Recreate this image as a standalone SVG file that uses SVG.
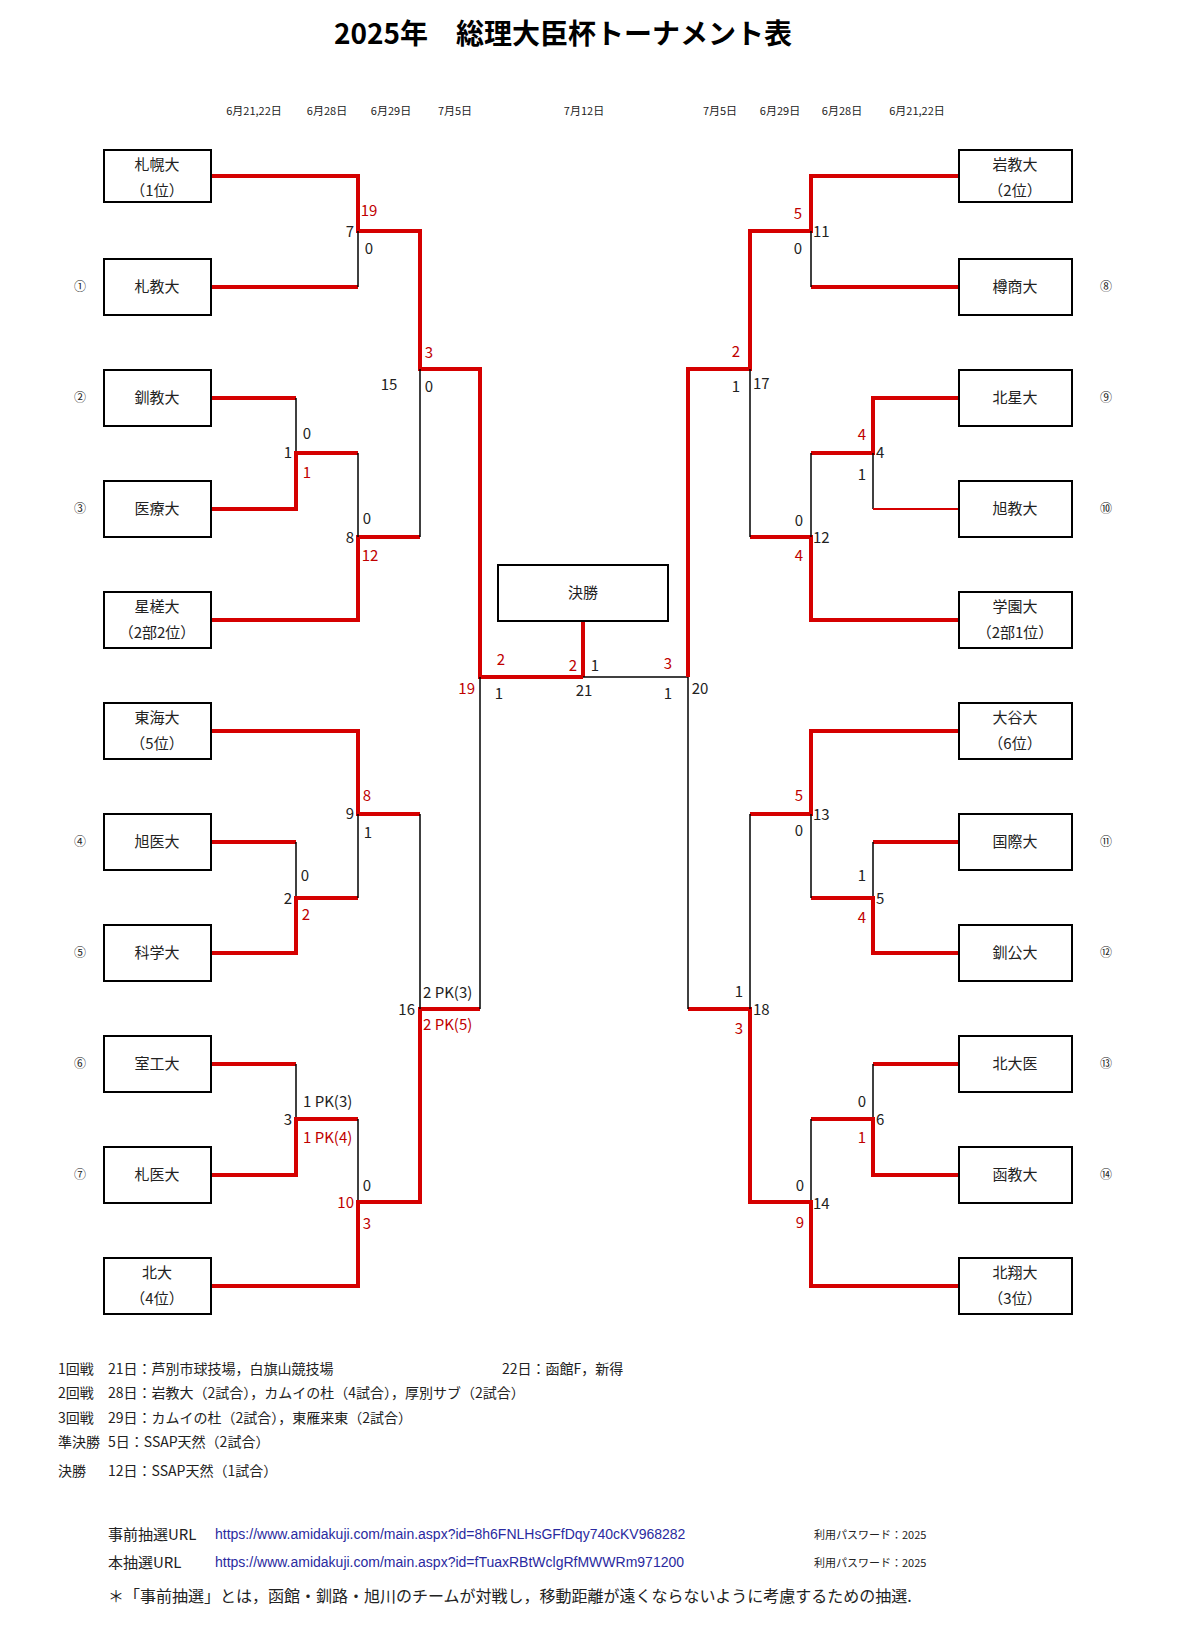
<svg xmlns="http://www.w3.org/2000/svg" width="1200" height="1644" viewBox="0 0 1200 1644">
<style>
text{font-family:"Noto Sans CJK JP","Liberation Sans",sans-serif;fill:#222}
.t{font-size:28px;font-weight:bold;text-anchor:middle;fill:#000}
.d{font-size:11px;text-anchor:middle}
.n{font-size:15px;text-anchor:middle}
.c{font-size:12px;text-anchor:middle}
.s{font-size:15px;font-family:"Liberation Sans","Noto Sans CJK JP",sans-serif}
.m{text-anchor:middle}.e{text-anchor:end}
.r{fill:#c00000}
.f{font-size:14px}
.u{font-size:14px;fill:#2a2aa0;font-family:"Liberation Sans",sans-serif}
.p{font-size:11px}
.box{fill:#fff;stroke:#000;stroke-width:2}
.R{stroke:#d50000;stroke-width:4;fill:none}
.r2{stroke:#d50000;stroke-width:2;fill:none}
.B{stroke:#000;stroke-width:1.5;fill:none}
</style>
<text class="t" x="563" y="44">2025年　総理大臣杯トーナメント表</text>
<g id="dates">
<text class="d" x="254" y="115">6月21,22日</text><text class="d" x="327" y="115">6月28日</text><text class="d" x="391" y="115">6月29日</text><text class="d" x="455" y="115">7月5日</text><text class="d" x="584" y="115">7月12日</text><text class="d" x="720" y="115">7月5日</text><text class="d" x="780" y="115">6月29日</text><text class="d" x="842" y="115">6月28日</text><text class="d" x="917" y="115">6月21,22日</text>
</g>
<g id="connectors">
<path class="R" d="M211 176H358V231H420V369H480V677H583"/>
<path class="R" d="M211 287H358"/><path class="B" d="M358 287V231"/>
<path class="R" d="M211 398H296"/><path class="B" d="M296 398V453"/>
<path class="R" d="M211 509H296V453H358"/>
<path class="R" d="M211 620H358V537H420"/><path class="B" d="M358 453V537"/>
<path class="B" d="M420 369V537"/>
<path class="R" d="M211 731H358V814H420"/>
<path class="R" d="M211 842H296"/><path class="B" d="M296 842V898"/>
<path class="R" d="M211 953H296V898H358"/><path class="B" d="M358 814V898"/>
<path class="R" d="M211 1064H296"/><path class="B" d="M296 1064V1119"/>
<path class="R" d="M211 1175H296V1119H358"/><path class="B" d="M358 1119V1202"/>
<path class="R" d="M211 1286H358V1202H420V1009H480"/><path class="B" d="M420 814V1009"/>
<path class="B" d="M480 677V1009"/>
<path class="R" d="M583 621V677"/>
<path class="B" d="M583 677H688"/>
<path class="R" d="M959 176H811V231H750V369H688V677"/>
<path class="R" d="M959 287H811"/><path class="B" d="M811 287V231"/>
<path class="R" d="M959 398H873V453H811"/><path class="B" d="M873 453V509"/>
<path class="r2" d="M959 509H873"/>
<path class="R" d="M959 620H811V537H750"/><path class="B" d="M811 453V537"/>
<path class="B" d="M750 369V537"/>
<path class="R" d="M959 731H811V814H750"/>
<path class="R" d="M959 842H873"/><path class="B" d="M873 842V898"/>
<path class="R" d="M959 953H873V898H811"/><path class="B" d="M811 814V898"/>
<path class="R" d="M959 1064H873"/><path class="B" d="M873 1064V1119"/>
<path class="R" d="M959 1175H873V1119H811"/><path class="B" d="M811 1119V1202"/>
<path class="R" d="M959 1286H811V1202H750V1009H688"/><path class="B" d="M750 814V1009"/>
<path class="B" d="M688 677V1009"/>
</g>
<g id="final"><rect class="box" x="498" y="565" width="170" height="56"/><text class="n" x="583" y="598">決勝</text></g>
<g id="L1"><rect class="box" x="104" y="150" width="107" height="52"/><text class="n" x="157" y="170">札幌大</text><text class="n" x="157" y="196">（1位）</text></g>
<g id="L2"><rect class="box" x="104" y="259" width="107" height="56"/><text class="n" x="157" y="292">札教大</text></g>
<g id="L3"><rect class="box" x="104" y="370" width="107" height="56"/><text class="n" x="157" y="403">釧教大</text></g>
<g id="L4"><rect class="box" x="104" y="481" width="107" height="56"/><text class="n" x="157" y="514">医療大</text></g>
<g id="L5"><rect class="box" x="104" y="592" width="107" height="56"/><text class="n" x="157" y="612">星槎大</text><text class="n" x="157" y="638">（2部2位）</text></g>
<g id="L6"><rect class="box" x="104" y="703" width="107" height="56"/><text class="n" x="157" y="723">東海大</text><text class="n" x="157" y="749">（5位）</text></g>
<g id="L7"><rect class="box" x="104" y="814" width="107" height="56"/><text class="n" x="157" y="847">旭医大</text></g>
<g id="L8"><rect class="box" x="104" y="925" width="107" height="56"/><text class="n" x="157" y="958">科学大</text></g>
<g id="L9"><rect class="box" x="104" y="1036" width="107" height="56"/><text class="n" x="157" y="1069">室工大</text></g>
<g id="L10"><rect class="box" x="104" y="1147" width="107" height="56"/><text class="n" x="157" y="1180">札医大</text></g>
<g id="L11"><rect class="box" x="104" y="1258" width="107" height="56"/><text class="n" x="157" y="1278">北大</text><text class="n" x="157" y="1304">（4位）</text></g>
<g id="R1"><rect class="box" x="959" y="150" width="113" height="52"/><text class="n" x="1015" y="170">岩教大</text><text class="n" x="1015" y="196">（2位）</text></g>
<g id="R2"><rect class="box" x="959" y="259" width="113" height="56"/><text class="n" x="1015" y="292">樽商大</text></g>
<g id="R3"><rect class="box" x="959" y="370" width="113" height="56"/><text class="n" x="1015" y="403">北星大</text></g>
<g id="R4"><rect class="box" x="959" y="481" width="113" height="56"/><text class="n" x="1015" y="514">旭教大</text></g>
<g id="R5"><rect class="box" x="959" y="592" width="113" height="56"/><text class="n" x="1015" y="612">学園大</text><text class="n" x="1015" y="638">（2部1位）</text></g>
<g id="R6"><rect class="box" x="959" y="703" width="113" height="56"/><text class="n" x="1015" y="723">大谷大</text><text class="n" x="1015" y="749">（6位）</text></g>
<g id="R7"><rect class="box" x="959" y="814" width="113" height="56"/><text class="n" x="1015" y="847">国際大</text></g>
<g id="R8"><rect class="box" x="959" y="925" width="113" height="56"/><text class="n" x="1015" y="958">釧公大</text></g>
<g id="R9"><rect class="box" x="959" y="1036" width="113" height="56"/><text class="n" x="1015" y="1069">北大医</text></g>
<g id="R10"><rect class="box" x="959" y="1147" width="113" height="56"/><text class="n" x="1015" y="1180">函教大</text></g>
<g id="R11"><rect class="box" x="959" y="1258" width="113" height="56"/><text class="n" x="1015" y="1278">北翔大</text><text class="n" x="1015" y="1304">（3位）</text></g>
<g id="seeds">
<text class="c" x="80" y="291">①</text><text class="c" x="80" y="402">②</text><text class="c" x="80" y="513">③</text><text class="c" x="80" y="846">④</text><text class="c" x="80" y="957">⑤</text><text class="c" x="80" y="1068">⑥</text><text class="c" x="80" y="1179">⑦</text>
<text class="c" x="1106" y="291">⑧</text><text class="c" x="1106" y="402">⑨</text><text class="c" x="1106" y="513">⑩</text><text class="c" x="1106" y="846">⑪</text><text class="c" x="1106" y="957">⑫</text><text class="c" x="1106" y="1068">⑬</text><text class="c" x="1106" y="1179">⑭</text>
</g>
<g id="scores" class="s">
<text class="m r" x="369" y="216">19</text><text class="e" x="354" y="237">7</text><text class="m" x="369" y="254">0</text>
<text class="m r" x="429" y="358">3</text><text class="m" x="389" y="390">15</text><text class="m" x="429" y="392">0</text>
<text class="m" x="307" y="439">0</text><text class="e" x="292" y="458">1</text><text class="m r" x="307" y="478">1</text>
<text class="m" x="367" y="524">0</text><text class="e" x="354" y="543">8</text><text class="m r" x="370" y="561">12</text>
<text class="m r" x="501" y="665">2</text><text class="e r" x="475" y="694">19</text><text class="m" x="499" y="699">1</text>
<text class="m r" x="573" y="671">2</text><text class="m" x="595" y="671">1</text><text class="m" x="584" y="696">21</text>
<text class="m r" x="668" y="669">3</text><text class="m" x="668" y="699">1</text><text class="m" x="700" y="694">20</text>
<text class="m r" x="367" y="801">8</text><text class="e" x="354" y="819">9</text><text class="m" x="368" y="838">1</text>
<text class="m" x="305" y="881">0</text><text class="e" x="292" y="904">2</text><text class="m r" x="306" y="920">2</text>
<text x="423" y="998">2 PK(3)</text><text class="e" x="415" y="1015">16</text><text class="r" x="423" y="1030">2 PK(5)</text>
<text x="303" y="1107">1 PK(3)</text><text class="e" x="292" y="1125">3</text><text class="r" x="303" y="1143">1 PK(4)</text>
<text class="m" x="367" y="1191">0</text><text class="e r" x="354" y="1208">10</text><text class="m r" x="367" y="1229">3</text>
<text class="m r" x="798" y="219">5</text><text x="813" y="237">11</text><text class="m" x="798" y="254">0</text>
<text class="m r" x="736" y="357">2</text><text class="m" x="736" y="392">1</text><text x="753" y="389">17</text>
<text class="m r" x="862" y="440">4</text><text x="876" y="458">4</text><text class="m" x="862" y="480">1</text>
<text class="m" x="799" y="526">0</text><text x="813" y="543">12</text><text class="m r" x="799" y="561">4</text>
<text class="m r" x="799" y="801">5</text><text x="813" y="820">13</text><text class="m" x="799" y="836">0</text>
<text class="m" x="862" y="881">1</text><text x="876" y="904">5</text><text class="m r" x="862" y="923">4</text>
<text class="m" x="739" y="997">1</text><text x="753" y="1015">18</text><text class="m r" x="739" y="1034">3</text>
<text class="m" x="862" y="1107">0</text><text x="876" y="1125">6</text><text class="m r" x="862" y="1143">1</text>
<text class="m" x="800" y="1191">0</text><text x="813" y="1209">14</text><text class="m r" x="800" y="1228">9</text>
</g>
<g id="notes">
<text class="f" x="58" y="1374">1回戦</text><text class="f" x="108" y="1374">21日：芦別市球技場，白旗山競技場</text><text class="f" x="502" y="1374">22日：函館F，新得</text>
<text class="f" x="58" y="1398">2回戦</text><text class="f" x="108" y="1398">28日：岩教大（2試合），カムイの杜（4試合），厚別サブ（2試合）</text>
<text class="f" x="58" y="1423">3回戦</text><text class="f" x="108" y="1423">29日：カムイの杜（2試合），東雁来東（2試合）</text>
<text class="f" x="58" y="1447">準決勝</text><text class="f" x="108" y="1447">5日：SSAP天然（2試合）</text>
<text class="f" x="58" y="1476">決勝</text><text class="f" x="108" y="1476">12日：SSAP天然（1試合）</text>
<text x="108" y="1540" style="font-size:15px">事前抽選URL</text><text class="u" x="215" y="1539">https://www.amidakuji.com/main.aspx?id=8h6FNLHsGFfDqy740cKV968282</text><text class="p" x="814" y="1539">利用パスワード：2025</text>
<text x="108" y="1568" style="font-size:15px">本抽選URL</text><text class="u" x="215" y="1567">https://www.amidakuji.com/main.aspx?id=fTuaxRBtWclgRfMWWRm971200</text><text class="p" x="814" y="1567">利用パスワード：2025</text>
<text x="108" y="1602" style="font-size:16px">＊「事前抽選」とは，函館・釧路・旭川のチームが対戦し，移動距離が遠くならないように考慮するための抽選.</text>
</g>
</svg>
